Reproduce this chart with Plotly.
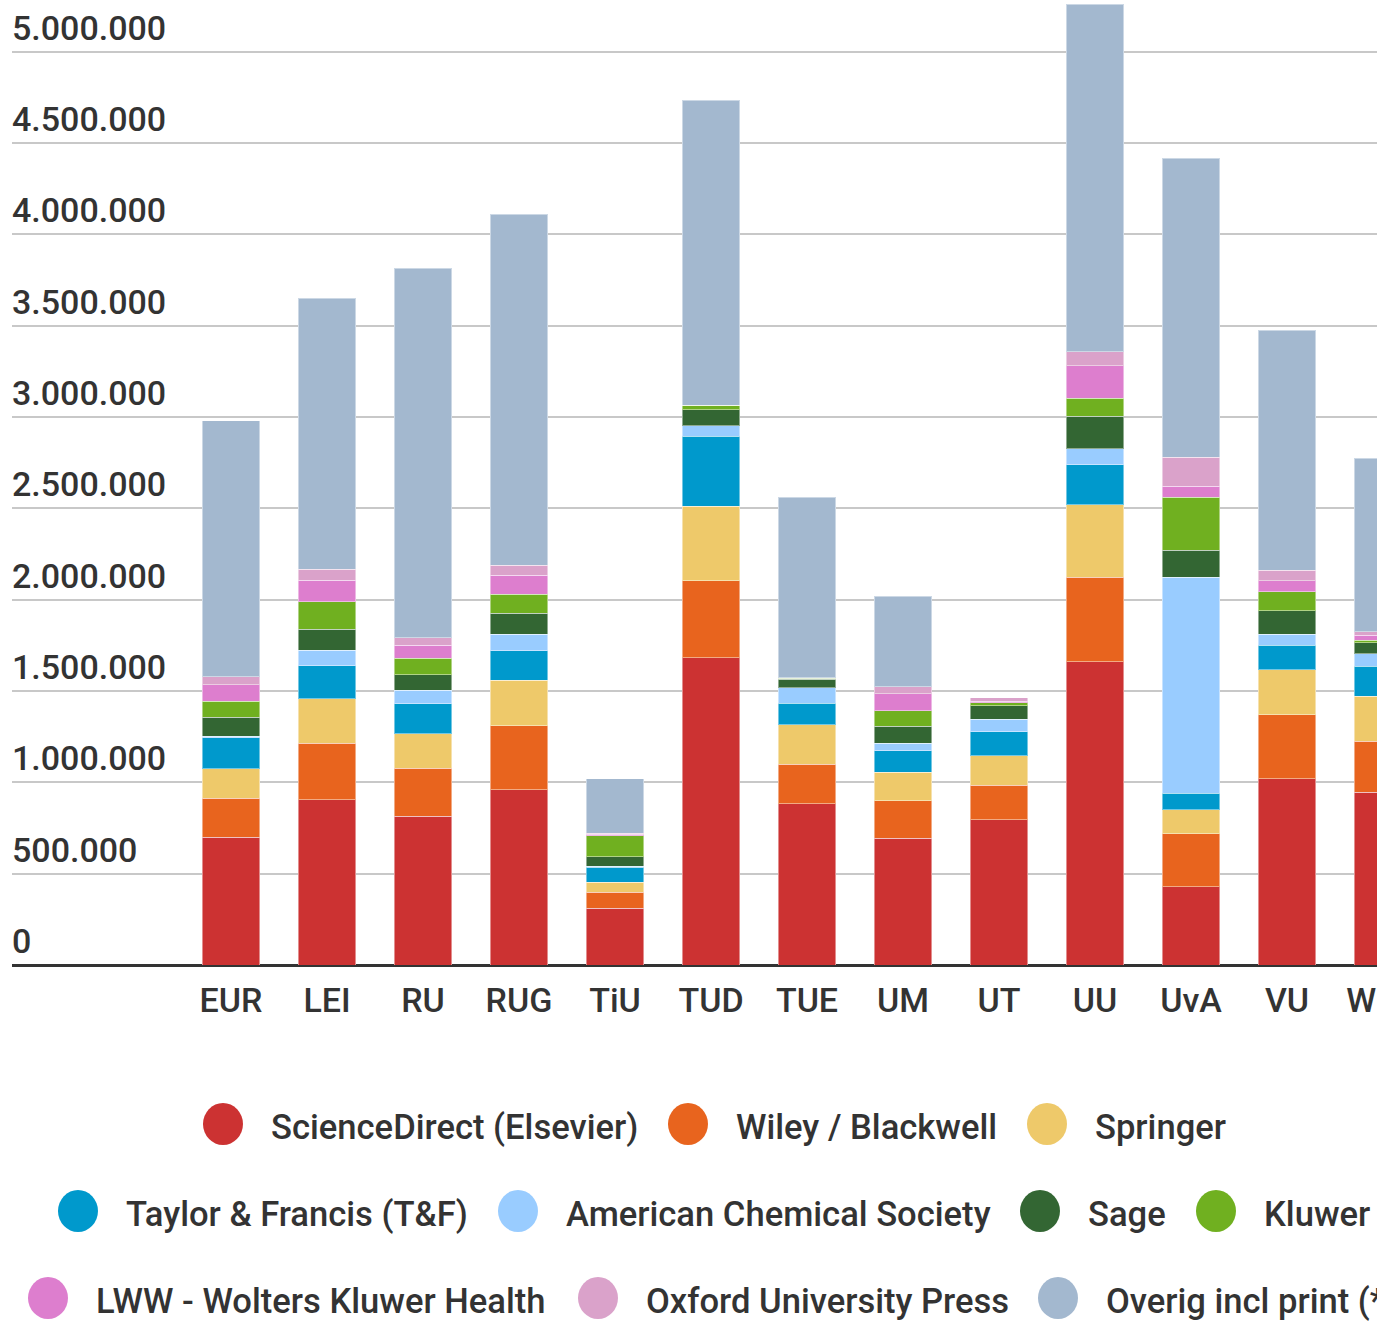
import plotly.graph_objects as go

# ---------------- data ----------------
universities = ["EUR", "LEI", "RU", "RUG", "TiU", "TUD", "TUE", "UM", "UT", "UU", "UvA", "VU", "WUR"]

sciencedirect = [699000, 904000, 814000, 959000, 311000, 1683000, 882000, 695000, 796000, 1661000, 427000, 1020000, 945000]
wiley         = [215000, 310000, 264000, 351000, 86000, 419000, 217000, 205000, 189000, 461000, 292000, 351000, 279000]
springer      = [160000, 243000, 189000, 249000, 57000, 410000, 217000, 155000, 160000, 397000, 132000, 246000, 246000]
taylor        = [169000, 180000, 162000, 162000, 81000, 382000, 118000, 118000, 131000, 220000, 88000, 134000, 164000]
acs           = [10000, 86000, 74000, 89000, 5000, 59000, 84000, 42000, 69000, 88000, 1183000, 59000, 70000]
sage          = [104000, 115000, 86000, 116000, 52000, 87000, 47000, 91000, 73000, 176000, 149000, 129000, 59000]
kluwer        = [86000, 150000, 90000, 103000, 116000, 25000, 4000, 85000, 18000, 99000, 288000, 105000, 14000]
lww           = [90000, 118000, 70000, 103000, 8000, 0, 0, 95000, 9000, 179000, 61000, 59000, 28000]
oup           = [44000, 60000, 43000, 57000, 6000, 0, 2000, 36000, 19000, 75000, 160000, 58000, 19000]
overig        = [1403000, 1484000, 2022000, 1919000, 297000, 1668000, 988000, 497000, 0, 1904000, 1637000, 1313000, 949000]

series_names = ["ScienceDirect (Elsevier)", "Wiley / Blackwell", "Springer", "Taylor & Francis (T&F)",
                "American Chemical Society", "Sage", "Kluwer", "LWW - Wolters Kluwer Health",
                "Oxford University Press", "Overig incl print (*)"]
series_values = [sciencedirect, wiley, springer, taylor, acs, sage, kluwer, lww, oup, overig]
series_colors = ["#CC3232", "#E8641E", "#EEC96A", "#0099CC", "#99CCFF", "#336633", "#70B020",
                 "#DD7ECE", "#DAA2CA", "#A3B8CF"]

tick_vals = [0, 500000, 1000000, 1500000, 2000000, 2500000, 3000000, 3500000, 4000000, 4500000, 5000000]

# ---------------- layout geometry (pixels) ----------------
# The figure is wider than the 1377px window; the page crops it on the right,
# like the reference view that cuts off the last bar and legend entries.
W, H = 1420, 1324
ML, MT = 12, 0
PLOT_BOTTOM = 965
MB = H - PLOT_BOTTOM
PW = W - ML
PH = PLOT_BOTTOM - MT
SLOT = 96.0            # pixels per category
FIRST_CENTER = 231.0   # pixel x of first category centre
X_LEFT = -(FIRST_CENTER - ML) / SLOT
X_RIGHT = X_LEFT + PW / SLOT

def px_x(px):
    return (px - ML) / PW

def px_y(py):
    return (PLOT_BOTTOM - py) / PH

TEXT = "#333333"

fig = go.Figure()
for name, vals, col in zip(series_names, series_values, series_colors):
    fig.add_trace(go.Bar(
        x=universities, y=vals, name=name,
        marker=dict(color=col, line=dict(color="rgba(255,255,255,0.45)", width=1)),
        showlegend=False,
    ))

# ---------------- custom legend ----------------
legend_items = [
    # (series index, circle center x, row y)
    (0, 223, 1124), (1, 688, 1124), (2, 1047, 1124),
    (3, 78, 1211), (4, 518, 1211), (5, 1040, 1211), (6, 1216, 1211),
    (7, 48, 1298), (8, 598, 1298), (9, 1058, 1298),
]
shapes = []
annotations = []
for idx, cx, cy in legend_items:
    shapes.append(dict(
        type="circle", xref="paper", yref="paper",
        xsizemode="pixel", ysizemode="pixel",
        xanchor=px_x(cx), yanchor=px_y(cy),
        x0=-20, x1=20, y0=-21, y1=21,
        fillcolor=series_colors[idx], line=dict(width=0),
    ))
    annotations.append(dict(
        text=series_names[idx], xref="paper", yref="paper",
        x=px_x(cx + 46), y=px_y(cy + 3), xanchor="left", yanchor="middle",
        showarrow=False, font=dict(family="Roboto", size=34.6, color=TEXT, weight=500),
    ))

fig.update_layout(
    width=W, height=H,
    margin=dict(l=ML, r=0, t=MT, b=MB, pad=0),
    barmode="stack",
    bargap=0.396,
    paper_bgcolor="white",
    plot_bgcolor="white",
    separators=",.",
    font=dict(family="Roboto", color=TEXT),
    shapes=shapes,
    annotations=annotations,
    showlegend=False,
)
fig.update_xaxes(
    range=[X_LEFT, X_RIGHT],
    automargin=False,
    showgrid=False,
    showline=False,
    ticks="outside", ticklen=5, tickcolor="rgba(0,0,0,0)",
    tickfont=dict(family="Roboto", size=34, color=TEXT, weight=500),
)
fig.update_yaxes(
    range=[0, 5282000],
    automargin=False,
    tickvals=tick_vals,
    tickformat=",d",
    ticklabelposition="inside top",
    ticklabelstandoff=-3,
    tickfont=dict(family="Roboto", size=34, color=TEXT, weight=500),
    showgrid=True, gridcolor="#C8C8C8", gridwidth=2,
    zeroline=True, zerolinecolor="#333333", zerolinewidth=3,
    showline=False,
)

fig.write_html(
    "out.html",
    config={"displayModeBar": False},
    post_script=(
        "document.documentElement.style.margin='0';"
        "document.documentElement.style.overflow='hidden';"
        "document.body.style.margin='0';"
        "document.body.style.padding='0';"
        "document.body.style.overflow='hidden';"
    ),
)
